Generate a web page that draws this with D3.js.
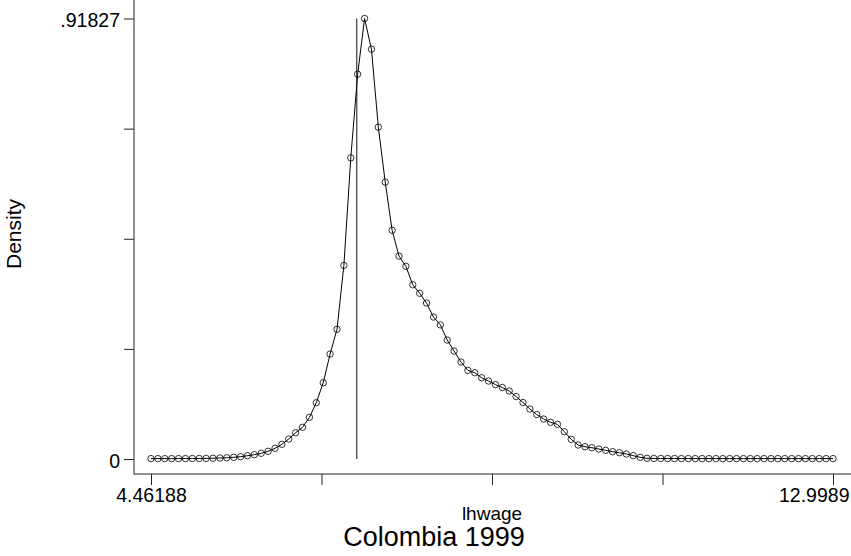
<!DOCTYPE html>
<html>
<head>
<meta charset="utf-8">
<script src="https://cdn.jsdelivr.net/npm/d3@7"></script>
<style>
  html, body { margin: 0; padding: 0; background: #fff; }
  svg { display: block; }
  text { font-family: "Liberation Sans", Arial, Helvetica, sans-serif; fill: #000; }
</style>
</head>
<body>
<svg id="chart" width="851" height="556"></svg>
<script>
// ---------------- DATA ----------------
const lhwage = [
  4.4619, 4.5481, 4.6343, 4.7206, 4.8068, 4.8930, 4.9793, 5.0655, 5.1517, 5.2380,
  5.3242, 5.4104, 5.4967, 5.5829, 5.6691, 5.7553, 5.8416, 5.9278, 6.0140, 6.1003,
  6.1865, 6.2727, 6.3590, 6.4452, 6.5314, 6.6177, 6.7039, 6.7901, 6.8764, 6.9626,
  7.0488, 7.1351, 7.2213, 7.3075, 7.3938, 7.4800, 7.5662, 7.6525, 7.7387, 7.8249,
  7.9112, 7.9974, 8.0836, 8.1699, 8.2561, 8.3423, 8.4285, 8.5148, 8.6010, 8.6872,
  8.7735, 8.8597, 8.9459, 9.0322, 9.1184, 9.2046, 9.2909, 9.3771, 9.4633, 9.5496,
  9.6358, 9.7220, 9.8083, 9.8945, 9.9807, 10.0670, 10.1532, 10.2394, 10.3257, 10.4119,
  10.4981, 10.5844, 10.6706, 10.7568, 10.8431, 10.9293, 11.0155, 11.1017, 11.1880, 11.2742,
  11.3604, 11.4467, 11.5329, 11.6191, 11.7054, 11.7916, 11.8778, 11.9641, 12.0503, 12.1365,
  12.2228, 12.3090, 12.3952, 12.4815, 12.5677, 12.6539, 12.7402, 12.8264, 12.9126, 12.9989
];
const density = [
  0.0008, 0.0008, 0.0008, 0.0008, 0.0009, 0.0009, 0.0010, 0.0011, 0.0013, 0.0016,
  0.0021, 0.0027, 0.0035, 0.0048, 0.0069, 0.0090, 0.0119, 0.0160, 0.0223, 0.0306,
  0.0417, 0.0548, 0.0661, 0.0869, 0.1173, 0.1590, 0.2188, 0.2703, 0.4036, 0.6278,
  0.8022, 0.91827, 0.8543, 0.6918, 0.5772, 0.4768, 0.4230, 0.4017, 0.3632, 0.3455,
  0.3251, 0.2959, 0.2796, 0.2480, 0.2250, 0.2021, 0.1848, 0.1798, 0.1694, 0.1625,
  0.1552, 0.1490, 0.1417, 0.1302, 0.1177, 0.1042, 0.0927, 0.0833, 0.0765, 0.0723,
  0.0569, 0.0410, 0.0292, 0.0256, 0.0235, 0.0208, 0.0181, 0.0152, 0.0131, 0.0104,
  0.0069, 0.0035, 0.0015, 0.0012, 0.0011, 0.0010, 0.0010, 0.0009, 0.0009, 0.0008,
  0.0008, 0.0008, 0.0008, 0.0008, 0.0008, 0.0008, 0.0008, 0.0008, 0.0008, 0.0008,
  0.0008, 0.0008, 0.0008, 0.0008, 0.0008, 0.0008, 0.0008, 0.0008, 0.0008, 0.0008
];
const refLineX = 7.037;          // vertical reference line
const refLineTop = 0.91827;
const xTickValues = [4.46188, 6.596135, 8.73039, 10.864645, 12.9989];
const xTickLabels = ["4.46188", "", "", "", "12.9989"];
const yTickValues = [0, 0.2295675, 0.459135, 0.6887025, 0.91827];
const yTickLabels = ["0", "", "", "", ".91827"];
const xTitle = "lhwage";
const yTitle = "Density";
const chartTitle = "Colombia 1999";

// ---------------- CHART ----------------
const svg = d3.select("#chart");
const axisX0 = 134, axisY0 = 474;

const x = d3.scaleLinear().domain([4.46188, 12.9989]).range([151, 833]);
const y = d3.scaleLinear().domain([0, 0.91827]).range([459, 18.5]);

// axis lines
svg.append("line").attr("x1", axisX0).attr("x2", axisX0).attr("y1", 0).attr("y2", axisY0 + 0.5)
  .attr("stroke", "#222").attr("stroke-width", 1);
svg.append("line").attr("x1", axisX0).attr("x2", 851).attr("y1", axisY0).attr("y2", axisY0)
  .attr("stroke", "#222").attr("stroke-width", 1);

// y axis ticks
const yAxis = d3.axisLeft(y).tickValues(yTickValues).tickSize(10).tickPadding(4)
  .tickFormat((d, i) => yTickLabels[i]);
const gy = svg.append("g").attr("transform", `translate(${axisX0},0)`).call(yAxis);
gy.select(".domain").remove();
gy.selectAll(".tick line").attr("stroke", "#222");
gy.selectAll(".tick text").attr("font-size", 19.5).attr("dy", "0.42em")
  .style("font-family", "'Liberation Sans', Arial, sans-serif").attr("fill", "#000");

// x axis ticks
const xAxis = d3.axisBottom(x).tickValues(xTickValues).tickSize(11).tickPadding(3)
  .tickFormat((d, i) => xTickLabels[i]);
const gx = svg.append("g").attr("transform", `translate(0,${axisY0})`).call(xAxis);
gx.select(".domain").remove();
gx.selectAll(".tick line").attr("stroke", "#222");
gx.selectAll(".tick text").attr("font-size", 19.5)
  .style("font-family", "'Liberation Sans', Arial, sans-serif").attr("fill", "#000");
// last label is pulled inside the canvas
gx.selectAll(".tick text").filter((d, i) => i === xTickValues.length - 1)
  .attr("text-anchor", "end").attr("x", 849 - x(xTickValues[xTickValues.length - 1]));

// vertical reference line
svg.append("line")
  .attr("x1", x(refLineX)).attr("x2", x(refLineX))
  .attr("y1", y(refLineTop)).attr("y2", y(0))
  .attr("stroke", "#555").attr("stroke-width", 1.4);

// density line
const pts = lhwage.map((v, i) => [v, density[i]]);
svg.append("path")
  .datum(pts)
  .attr("fill", "none").attr("stroke", "#000").attr("stroke-width", 1)
  .attr("d", d3.line().x(d => x(d[0])).y(d => y(d[1])));

// markers
svg.append("g").selectAll("circle").data(pts).join("circle")
  .attr("cx", d => x(d[0])).attr("cy", d => y(d[1])).attr("r", 3.2)
  .attr("fill", "none").attr("stroke", "#000").attr("stroke-width", 0.8);

// titles
svg.append("text").attr("x", 492).attr("y", 520).attr("text-anchor", "middle")
  .attr("font-size", 19).text(xTitle);
svg.append("text").attr("transform", "translate(20.5,234) rotate(-90)").attr("text-anchor", "middle")
  .attr("font-size", 21).text(yTitle);
svg.append("text").attr("x", 434).attr("y", 546).attr("text-anchor", "middle")
  .attr("font-size", 27).text(chartTitle);
</script>
</body>
</html>
